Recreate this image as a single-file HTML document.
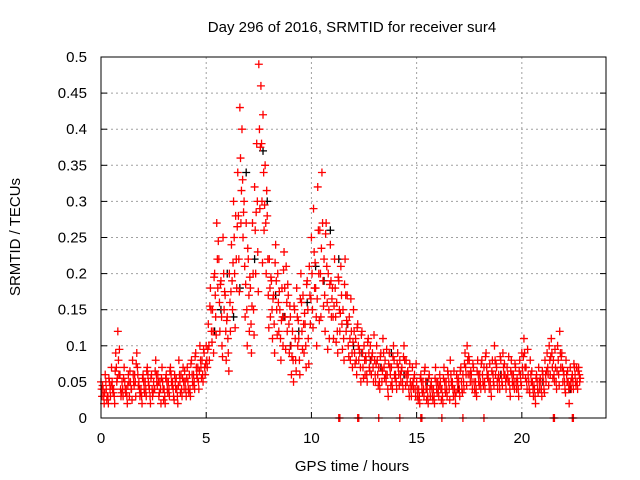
<!DOCTYPE html>
<html><head><meta charset="utf-8"><style>
body{margin:0;background:#fff}
svg{display:block;font-family:"Liberation Sans","DejaVu Sans",sans-serif}
</style></head><body>
<svg id="chart" width="640" height="480">
<text x="352" y="32" text-anchor="middle" font-size="15">Day 296 of 2016, SRMTID for receiver sur4</text>
<text x="352" y="471" text-anchor="middle" font-size="15">GPS time / hours</text>
<text x="20" y="237" text-anchor="middle" font-size="15" transform="rotate(-90 20 237)">SRMTID / TECUs</text>
<g id="grid"></g><g id="ticks"></g><g id="marks"></g>
<rect x="101" y="57" width="505" height="361" fill="none" stroke="#000" stroke-width="1"/>
</svg>
<script>
const xTicks=[0,5,10,15,20];
const yTicks=[0,0.05,0.1,0.15,0.2,0.25,0.3,0.35,0.4,0.45,0.5];
const yTickLabels=["0","0.05","0.1","0.15","0.2","0.25","0.3","0.35","0.4","0.45","0.5"];
const redA=[5,4,6,3,5,7,4,9,12,6, 5,7,4,6,5,8,6,9,5,4, 6,5,7,4,6,5,8,6,5,7, 4,6,5,7,5,6,4,8,6,7, 5,7,6,8,6,9,7,10,8,9,
10,13,18,15,20,27,22,19,25,17, 14,20,24,30,28,34,43,40,30,27, 22,18,27,32,38,49,46,42,35,28, 22,19,17,24,20,15,18,23,21,17,
14,12,15,18,11,20,17,13,19,21, 25,29,18,32,26,34,22,27,20,24, 18,22,16,19,21,15,22,17,14,12, 15,11,13,9,12,10,8,11,10,9,
8,10,7,9,11,8,6,9,7,10, 6,9,8,7,10,8,6,5,7,6, 5,4,6,5,7,4,6,5,4,7, 5,6,4,7,5,6,8,5,4,6, 5,7,6,9,10,8,6,7,5,8,
6,8,7,9,6,5,8,10,7,6, 8,9,6,7,5,8,6,7,5,8, 9,11,7,6,8,5,4,6,7,5, 6,8,9,10,11,8,7,10,12,9, 6,8,5,7,6,7,7,7];
const redB=[3,2,4,2,3,4,2,5,6,3, 3,4,2,3,4,5,3,6,3,2, 4,3,5,2,3,4,5,3,2,4, 2,4,3,5,3,4,2,5,3,4, 3,4,3,5,4,6,4,7,5,6,
7,8,12,9,14,18,12,10,15,8, 9,12,15,20,18,22,27,25,14,10, 12,9,15,20,23,29,30,26,20,17, 14,11,9,15,12,8,10,14,12,9,
6,5,8,10,6,12,9,7,11,13, 15,18,10,20,14,19,12,16,11,14, 11,14,9,12,13,8,12,10,8,7, 9,6,8,5,7,6,5,7,6,5,
5,6,4,5,7,5,3,6,4,6, 4,6,5,4,6,5,3,3,4,3, 3,2,4,3,4,2,3,3,2,4, 3,4,2,4,3,4,5,3,2,4, 3,4,4,6,6,5,4,4,3,5,
4,5,4,6,4,3,5,6,4,4, 5,6,4,5,3,5,4,4,3,5, 6,7,4,4,5,3,2,4,4,3, 4,5,6,6,7,5,4,6,7,5, 4,5,2,4,4,5,4,5];
const redC=[4,3,5,3,4,5,3,7,8,4, 4,5,3,5,4,6,5,7,4,3, 5,4,6,3,4,4,6,5,4,5, 3,5,4,6,4,5,3,6,4,5, 4,5,4,6,5,7,5,8,6,7,
8,10,15,12,17,22,16,14,20,12, 11,16,19,25,22,28,36,33,21,15, 17,13,20,26,30,40,38,34,27,22, 18,15,13,19,16,11,14,18,16,13,
10,8,11,14,8,16,13,10,15,17, 20,23,14,26,20,27,17,21,15,19, 14,18,12,15,17,11,17,13,11,9, 12,8,10,7,9,8,6,9,8,7,
6,8,5,7,9,6,4,7,5,8, 5,7,6,5,8,6,4,4,5,4, 4,3,5,4,5,3,4,4,3,5, 4,5,3,5,4,5,6,4,3,5, 4,5,5,7,8,6,5,5,4,6,
5,6,5,7,5,4,6,8,5,5, 6,7,5,6,4,6,5,5,4,6, 7,9,5,5,6,4,3,5,5,4, 5,6,7,8,9,6,5,8,9,7, 5,6,4,5,5,6,5,6];
const redD=[4.5,3.5,2.5,5.5,4.5,3.5,6.5,5.5,9.5,3.5, 5.5,3.5,4.5,6.5,2.5,4.5,7.5,4.5,3.5,5.5, 3.5,6.5,4.5,5.5,3.5,6.5,4.5,3.5,5.5,2.5, 5.5,3.5,6.5,4.5,2.5,5.5,4.5,3.5,5.5,6.5, 5.5,3.5,7.5,4.5,8.5,5.5,6.5,5.5,9.5,7.5,
9.5,15.5,10.5,19.5,11.5,24.5,18.5,8.5,17.5,13.5, 6.5,17.5,21.5,12.5,26.5,17.5,31.5,28.5,18.5,23.5, 19.5,15.5,11.5,28.5,17.5,37.5,21.5,29.5,31.5,12.5, 19.5,16.5,21.5,11.5,17.5,13.5,20.5,9.5,18.5,15.5,
8.5,15.5,6.5,13.5,16.5,9.5,14.5,18.5,7.5,16.5, 12.5,21.5,16.5,13.5,23.5,15.5,25.5,9.5,18.5,16.5, 15.5,10.5,19.5,14.5,9.5,18.5,13.5,8.5,16.5,10.5, 7.5,12.5,9.5,11.5,5.5,8.5,10.5,6.5,8.5,11.5,
7.5,4.5,8.5,6.5,5.5,9.5,7.5,4.5,8.5,5.5, 7.5,4.5,6.5,8.5,4.5,6.5,7.5,4.5,5.5,7.5, 2.5,5.5,3.5,6.5,2.5,5.5,4.5,2.5,5.5,3.5, 4.5,2.5,5.5,3.5,6.5,2.5,4.5,6.5,3.5,5.5, 6.5,3.5,7.5,4.5,8.5,6.5,7.5,3.5,6.5,4.5,
7.5,4.5,8.5,5.5,7.5,6.5,4.5,7.5,5.5,8.5, 4.5,7.5,5.5,8.5,6.5,4.5,7.5,5.5,6.5,4.5, 8.5,5.5,9.5,3.5,6.5,4.5,5.5,3.5,5.5,6.5, 3.5,6.5,4.5,8.5,5.5,9.5,6.5,4.5,8.5,6.5, 3.5,6.5,4.5,5.5,7.5,4.5,6.5,5.5];
const blackT=[5.4,5.7,6.0,6.3,6.6,6.9,7.3,7.7,7.9,8.3,8.7,9.0,9.4,9.8,10.2,10.6,10.9,11.3,11.7,12.0,12.4,12.8,13.3,13.8,14.4,15.5,17.0,19.0,21.0,22.3];
const blackV=[0.12,0.15,0.20,0.14,0.18,0.34,0.22,0.37,0.30,0.17,0.14,0.10,0.12,0.16,0.21,0.19,0.26,0.22,0.13,0.10,0.09,0.08,0.07,0.09,0.06,0.05,0.04,0.06,0.05,0.04];
const zeroT=[11.3,11.35,12.2,12.25,13.2,14.2,15.2,15.25,16.2,17.2,18.2,21.5,21.55,22.4,22.45];
const NS='http://www.w3.org/2000/svg';
const X=t=>101+t*505/24, Y=v=>418-v*361/0.5;
const grid=document.getElementById('grid'),ticks=document.getElementById('ticks'),marks=document.getElementById('marks');
function mk(tag,at,par){const e=document.createElementNS(NS,tag);for(const k in at)e.setAttribute(k,at[k]);par.appendChild(e);return e;}
xTicks.forEach((t,i)=>{
 if(t>0){const g=mk('line',{x1:X(t),x2:X(t),y1:57,y2:418,stroke:'#a0a0a0','stroke-dasharray':'2,3'},grid);
 
 }
 const l=mk('text',{x:X(t),y:443,'text-anchor':'middle','font-size':15},ticks);l.textContent=String(t);
 
 
 mk('line',{x1:X(t),x2:X(t),y1:418,y2:412,stroke:'#000'},ticks);
});
yTicks.forEach((v,i)=>{
 if(v>0&&v<0.5){const g=mk('line',{x1:101,x2:606,y1:Y(v),y2:Y(v),stroke:'#a0a0a0','stroke-dasharray':'2,3'},grid);
 
 }
 const l=mk('text',{x:87,y:Y(v)+5,'text-anchor':'end','font-size':15},ticks);l.textContent=yTickLabels[i];
 
 
 mk('line',{x1:101,x2:107,y1:Y(v),y2:Y(v),stroke:'#000'},ticks);
 mk('line',{x1:606,x2:600,y1:Y(v),y2:Y(v),stroke:'#000'},ticks);
});
function plus(t,v,c,name){
 const x=X(t),y=Y(v);
 const p=mk('path',{d:`M${x-4},${y}h8M${x},${y-4}v8`,stroke:c,'stroke-width':1.3,fill:'none'},marks);
 
 
}
blackT.forEach((t,i)=>plus(t,blackV[i],'#000','black-point'));
redA.forEach((v,i)=>plus(i*0.1,v/100,'#f00','red-point'));
redB.forEach((v,i)=>plus(i*0.1+0.05,v/100,'#f00','red-point'));
redC.forEach((v,i)=>plus(i*0.1+0.03,v/100,'#f00','red-point'));
redD.forEach((v,i)=>plus(i*0.1+0.075,v/100,'#f00','red-point'));
zeroT.forEach(t=>plus(t,0,'#f00','zero-point'));
</script>
</body></html>
